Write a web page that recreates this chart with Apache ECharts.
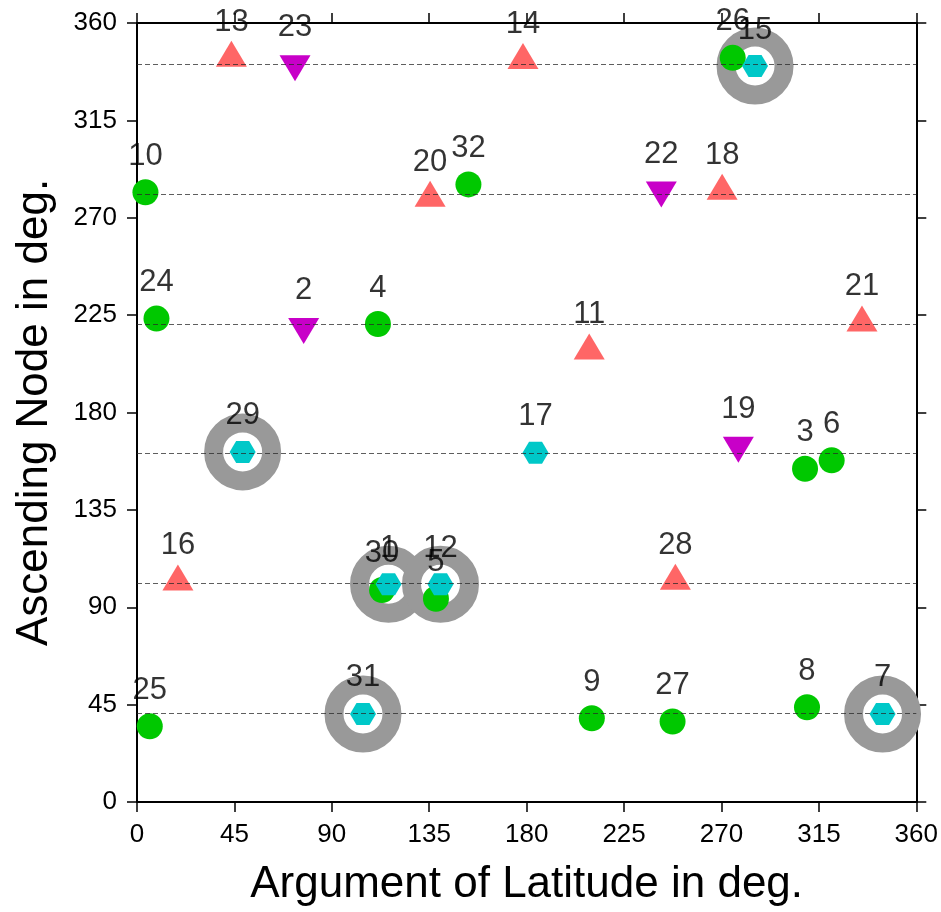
<!DOCTYPE html>
<html>
<head>
<meta charset="utf-8">
<script src="https://cdn.jsdelivr.net/npm/echarts@6/dist/echarts.min.js"></script>
<style>
html,body{margin:0;padding:0;background:#fff;}
#chart{width:941px;height:912px;}
</style>
</head>
<body>
<div id="chart"></div>
<script>
// Orbital plane ascending nodes (dashed reference lines)
const planeNodes = [40.8, 100.9, 161.0, 221.0, 280.9, 340.9];
// Axis ticks
const axisMin = 0, axisMax = 360, axisStep = 45;
// [argument of latitude, ascending node, PRN]
const circleSats = [[3.9,281.8,10],[153.1,285.4,32],[275.2,343.9,26],[9.0,223.4,24],[111.3,220.9,4],[308.6,154.0,3],[320.9,157.9,6],[113.2,98.0,30],[138.1,93.9,5],[5.9,35.0,25],[210.1,38.7,9],[247.4,37.2,27],[309.5,43.8,8]];
const upTriSats = [[43.6,343.8,13],[178.3,342.8,14],[135.4,279.1,20],[270.3,282.3,18],[208.9,208.5,11],[334.9,221.4,21],[18.9,101.7,16],[248.7,102.1,28]];
const downTriSats = [[73.0,341.1,23],[242.2,282.7,22],[77.0,219.7,2],[277.8,164.8,19]];
const hexSats = [[285.5,340.1,15],[48.8,161.8,29],[184.1,161.4,17],[116.2,100.6,1],[140.2,100.6,12],[104.4,40.7,31],[344.4,40.7,7]];
const ringedPrns = [15,29,1,12,31,7];

const FONT = 'Liberation Sans, Arial, Helvetica, sans-serif';
const chart = echarts.init(document.getElementById('chart'), null, {renderer:'canvas'});

const ringData = hexSats.filter(d => ringedPrns.indexOf(d[2]) >= 0);
const allSats = [].concat(circleSats, upTriSats, downTriSats, hexSats);

function axisCommon(extra){
  return Object.assign({
    type:'value', min:axisMin, max:axisMax, interval:axisStep,
    axisLine:{show:true, onZero:false, lineStyle:{color:'#000', width:2}},
    axisTick:{show:true, inside:false, length:10, lineStyle:{color:'#000', width:1.5}},
    splitLine:{show:false}
  }, extra);
}

const option = {
  animation:false,
  backgroundColor:'#fff',
  grid:{left:137, right:23, top:23, bottom:109, containLabel:false},
  xAxis:[
    axisCommon({position:'bottom',
      axisLabel:{show:true, color:'#000', fontSize:26, fontFamily:FONT, margin:20},
      name:'Argument of Latitude in deg.', nameLocation:'middle', nameGap:61,
      nameTextStyle:{color:'#000', fontSize:44, fontFamily:FONT}}),
    axisCommon({position:'top', axisLabel:{show:false}})
  ],
  yAxis:[
    axisCommon({position:'left',
      axisLabel:{show:true, color:'#000', fontSize:26, fontFamily:FONT, margin:20},
      name:'Ascending Node in deg.', nameLocation:'middle', nameGap:80,
      nameTextStyle:{color:'#000', fontSize:44, fontFamily:FONT}}),
    axisCommon({position:'right', axisLabel:{show:false}})
  ],
  series:[
    {type:'scatter', name:'rings', z:2, data:ringData, symbol:'circle', symbolSize:58,
     itemStyle:{color:'#fff', borderColor:'#999999', borderWidth:19, opacity:1}, silent:true},
    {type:'scatter', name:'circles', z:3, data:circleSats, symbol:'circle', symbolSize:26,
     itemStyle:{color:'#00c800', opacity:1}},
    {type:'scatter', name:'up', z:3, data:upTriSats, symbol:'path://M15.5,0L31,26L0,26Z', symbolSize:[31,26],
     symbolOffset:[0,-4.33], itemStyle:{color:'#ff6666', opacity:1}},
    {type:'scatter', name:'down', z:3, data:downTriSats, symbol:'path://M0,0L31,0L15.5,26Z', symbolSize:[31,26],
     symbolOffset:[0,4.33], itemStyle:{color:'#c800c8', opacity:1}},
    {type:'scatter', name:'hex', z:4, data:hexSats, symbol:'path://M0,11L6.5,0L19.5,0L26,11L19.5,22L6.5,22Z', symbolSize:[26,22],
     itemStyle:{color:'#00c8c8', opacity:1}},
    {type:'scatter', name:'labels', z:6, data:allSats, symbol:'circle', symbolSize:1,
     itemStyle:{color:'rgba(0,0,0,0)'}, silent:true,
     label:{show:true, position:'inside', offset:[0,-36], color:'#000', textBorderWidth:0,
       fontSize:31, fontFamily:FONT, formatter:p => String(p.value[2])},
     markLine:{silent:true, symbol:'none', animation:false,
       label:{show:false},
       lineStyle:{color:'rgba(40,40,40,0.75)', width:1, type:[5,3]},
       data:planeNodes.map(v => ({yAxis:v}))}}
  ]
};
chart.setOption(option);
</script>
</body>
</html>
